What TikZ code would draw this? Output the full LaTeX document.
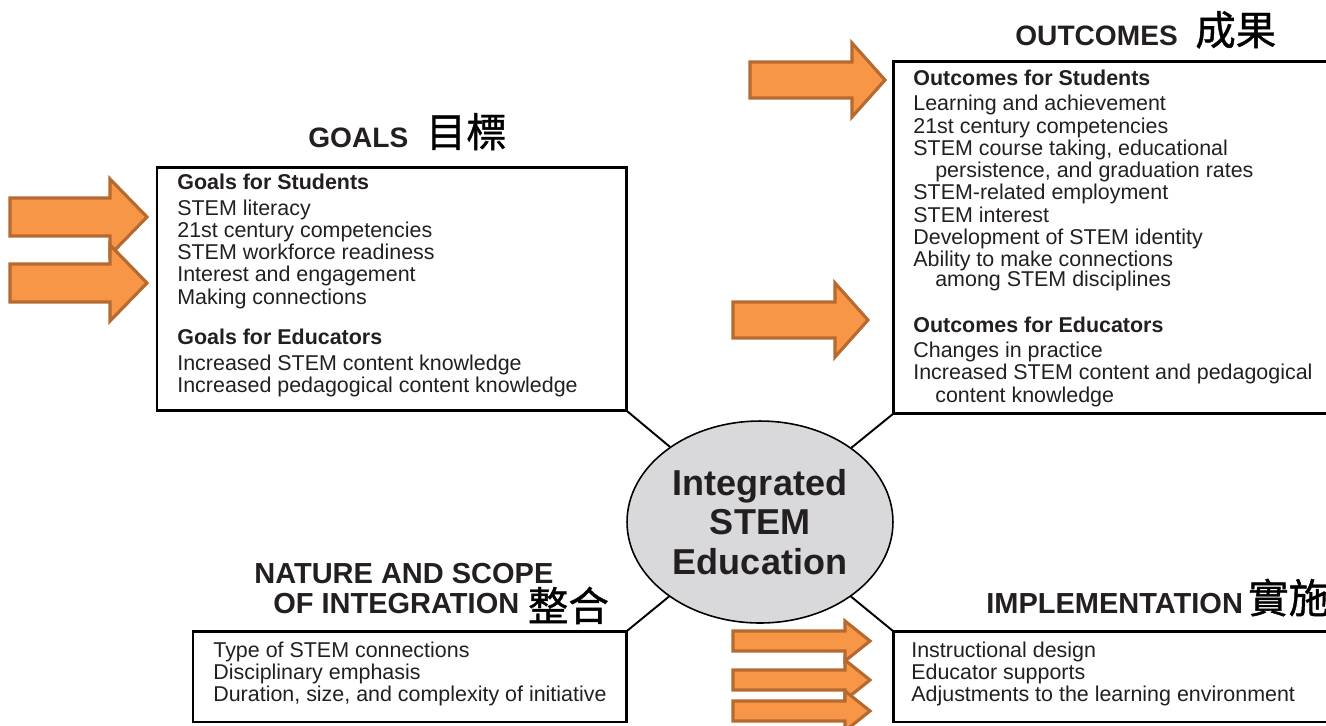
\documentclass[tikz,border=0pt]{standalone}
\usepackage{fontspec}
\setmainfont{Liberation Sans}
\newfontfamily\cjk{Noto Sans CJK TC}[FakeBold=1]
\usetikzlibrary{shapes.geometric}
\definecolor{arroworange}{HTML}{F79646}
\definecolor{arrowedge}{HTML}{B66A30}
\definecolor{hubgray}{HTML}{D9D9DB}
\definecolor{ink}{HTML}{231F20}
\def\orangearrow(#1,#2)(#3:#4:#5:#6){\draw[arrowbody] ({#1},{#2-#5}) -- ({#4},{#2-#5}) -- ({#4},{#2-#6}) -- ({#3},{#2}) -- ({#4},{#2+#6}) -- ({#4},{#2+#5}) -- ({#1},{#2+#5}) -- cycle;}
\tikzset{
	arrowbody/.style={fill=arroworange, draw=arrowedge, line width=1.8pt},
	panel/.style={draw=black, line width=1.7pt, anchor=north west, outer sep=0pt, inner sep=0pt},
	bodytext/.style={anchor=north west, inner sep=0pt, align=left, text=ink, font=\fontsize{12.2}{12.65}\selectfont},
	heading/.style={anchor=base west, inner sep=0pt, text=ink, font=\bfseries\fontsize{16}{17}\selectfont},
	wideheading/.style={heading, font=\bfseries\fontsize{16.5}{17}\selectfont},
	hub/.style={ellipse, draw=black, line width=0.9pt, fill=hubgray, minimum width=5.32cm, minimum height=4.04cm, inner sep=0pt, align=center, text=ink, font=\bfseries\fontsize{20.5}{22.7}\selectfont},
	link/.style={line width=1.1pt}
}
\newcommand{\zh}[1]{{\color{black}\cjk\mdseries\fontsize{23}{23}\selectfont #1}}

\begin{document}
\begin{tikzpicture}[x=0.02cm, y=-0.02cm]
		%%%%% START %%%%%
		\clip (0,0) rectangle (1326,725);
		
		% centre
		\node[hub] (stem) at (760,522) {Integrated\\STEM\\Education};
		
		% boxes
		\node[panel, minimum width=9.4cm, minimum height=4.88cm] (goals) at (157,167) {};
		\node[panel, minimum width=8.94cm, minimum height=7.06cm] (outcomes) at (893,61) {};
		\node[panel, minimum width=8.68cm, minimum height=1.82cm] (nature) at (193,631) {};
		\node[panel, minimum width=8.94cm, minimum height=1.82cm] (impl) at (893,631) {};
		
		\draw[link] (goals.south east) -- (stem);
		\draw[link] (outcomes.south west) -- (stem);
		\draw[link] (nature.north east) -- (stem);
		\draw[link] (impl.north west) -- (stem);
		
		% headings
		\node[heading] (goalshead) at (308,147) {GOALS\hspace{10pt}\zh{目標}};
		\node[heading] (outhead) at (1015,45) {OUTCOMES\hspace{10pt}\zh{成果}};
		\node[wideheading] (naturehead) at (254,583) {NATURE AND SCOPE};
		\node[wideheading] (naturehead2) at (273,613) {OF INTEGRATION\hspace{5pt}\raisebox{-4.5pt}{\zh{整合}}};
		\node[wideheading] (implhead) at (986,613) {IMPLEMENTATION\hspace{3pt}\zh{實施}};
		
		% texts
		\node[bodytext] (goalstext) at (177,173.6) {{\bfseries Goals for Students}\\[2pt]
			STEM literacy\\
			21st century competencies\\
			STEM workforce readiness\\
			Interest and engagement\\
			Making connections\\[10.6pt]
			{\bfseries Goals for Educators}\\[2pt]
			Increased STEM content knowledge\\
			Increased pedagogical content knowledge};
		\node[bodytext] (outtext) at (913,69.6) {{\bfseries Outcomes for Students}\\[1.8pt]
			Learning and achievement\\
			21st century competencies\\
			STEM course taking, educational\\
			\hspace*{12.5pt}persistence, and graduation rates\\
			STEM-related employment\\
			STEM interest\\
			Development of STEM identity\\
			Ability to make connections\\[-1.3pt]
			\hspace*{12.5pt}among STEM disciplines\\[13.5pt]
			{\bfseries Outcomes for Educators}\\[1.8pt]
			Changes in practice\\
			Increased STEM content and pedagogical\\
			\hspace*{12.5pt}content knowledge};
		\node[bodytext] (naturetext) at (213,641.6) {Type of STEM connections\\
			Disciplinary emphasis\\
			Duration, size, and complexity of initiative};
		\node[bodytext] (impltext) at (911,641.6) {Instructional design\\
			Educator supports\\
			Adjustments to the learning environment};
		
		% arrows
		\orangearrow(10,217)(147:110:19:38);
		\orangearrow(10,283)(147:110:19:38);
		\orangearrow(750,80)(885:852:18:37);
		\orangearrow(733,320)(868:835:18:37);
		\orangearrow(733,641)(870:845:10:20);
		\orangearrow(733,680)(870:845:10:20);
		\orangearrow(733,711)(870:845:10:20);
		%%%%% END %%%%%
\end{tikzpicture}
\end{document}
